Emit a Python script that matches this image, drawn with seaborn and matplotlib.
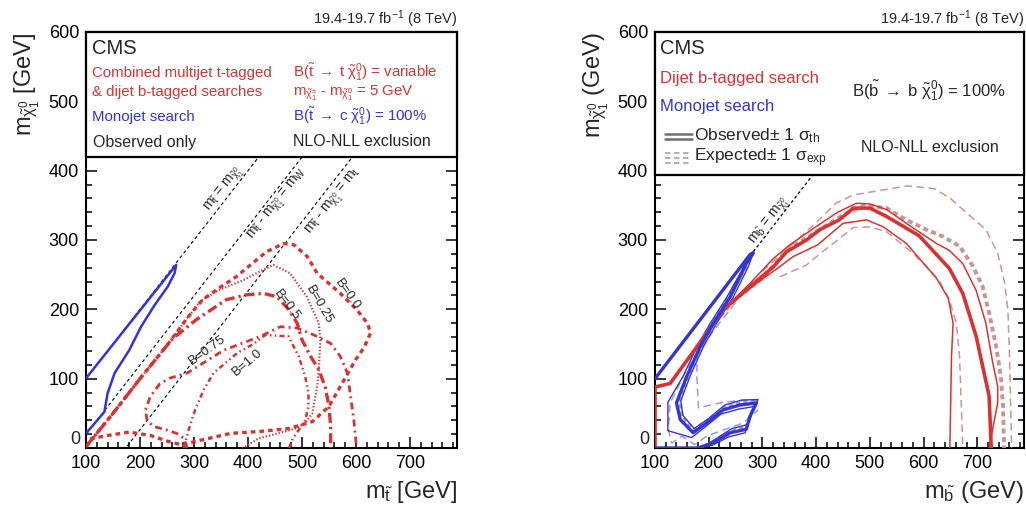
import matplotlib
matplotlib.use("Agg")
import numpy as np
import matplotlib.pyplot as plt
import seaborn as sns
from matplotlib.patches import Rectangle
from matplotlib.lines import Line2D
from matplotlib.ticker import MultipleLocator, FuncFormatter

# ---------------- values ----------------
LUMI = "19.4-19.7 fb$^{-1}$ (8 TeV)"
X_RANGE = (100, 787)
Y_RANGE = (0, 600)
M_W = 80.4
M_TOP = 173.5

# left panel: stop -> c chi (monojet), observed
STOP_MONO_X = [100, 267, 264, 251.5, 227, 202, 180, 153, 140, 134, 100]
STOP_MONO_Y = [100.5, 264, 252, 233, 206, 175, 141, 108, 79, 52, 21]

# left panel: combined t-tagged + b-tagged, one contour per branching fraction
B00_X = [100, 150, 200, 250, 290, 316, 345, 378, 434, 466, 485, 510, 528, 571, 602, 621,
         627, 615, 599, 574, 550, 519, 475, 423, 367, 300, 280, 250, 220, 180, 140, 100]
B00_Y = [2, 50, 100, 148, 190, 214, 230, 247, 283, 295, 293, 276, 252, 223, 199, 180,
         166, 145, 127, 93, 60, 38, 28, 24, 21, 9, 4, 10, 18, 23, 18, 12]
B025_X = [100, 150, 200, 250, 290, 312, 347, 391, 428, 447, 478, 509, 531, 534, 531, 528,
          519, 506, 488, 450, 420, 397, 390]
B025_Y = [2, 50, 100, 148, 190, 212, 228, 242, 257, 264, 252, 218, 180, 156, 113, 88,
          50, 36, 28, 20, 14, 3, 0]
B05_X = [100, 150, 200, 250, 261, 304, 360, 398, 429, 454, 475, 491, 500, 516, 531, 543,
         550, 553, 553]
B05_Y = [2, 50, 100, 148, 158, 185, 214, 221, 223, 218, 200, 180, 156, 132, 113, 88,
         60, 31, 0]
B075_X = [287, 281, 268, 250, 225, 213, 210, 219, 237, 256, 287, 355, 423, 460, 491, 522,
          553, 571, 584, 590, 596, 601]
B075_Y = [0, 14, 21, 26, 31, 40, 55, 74, 93, 101, 108, 141, 161, 175, 173, 163,
          151, 132, 108, 74, 40, 0]
B10_X = [281, 290, 302, 318, 336, 380, 410, 432, 475, 494, 506, 512, 512, 506, 494, 482, 476]
B10_Y = [0, 26, 55, 84, 108, 137, 150, 163, 161, 132, 103, 79, 60, 40, 26, 12, 0]

B_LABELS = ["B=0.0", "B=0.25", "B=0.5", "B=0.75", "B=1.0"]
B_LABEL_X = [584, 532, 472, 324, 398]
B_LABEL_Y = [221, 206, 206, 141, 124]
B_LABEL_ROT = [-55, -60, -53, 36, 40]

# right panel: sbottom, dijet b-tagged (red)
RED_OBS_X = [100, 100, 128, 178, 227, 277, 320, 345, 382, 407, 443, 469, 500, 531, 592,
             648, 673, 698, 722, 726]
RED_OBS_Y = [0, 88, 93, 146, 199, 233, 261, 283, 300, 315, 329, 346, 346, 334, 306,
             259, 223, 161, 75, 0]
RED_UP_X = [227, 280, 320, 351, 405, 440, 475, 500, 531, 568, 624, 648, 673, 698, 716,
            729, 738, 738, 722]
RED_UP_Y = [199, 240, 273, 293, 322, 340, 353, 352, 344, 324, 295, 285, 266, 227, 180,
            122, 89, 65, 0]
RED_DN_X = [227, 290, 333, 357, 403, 450, 494, 525, 568, 624, 646, 655, 652, 649]
RED_DN_Y = [199, 238, 262, 276, 293, 324, 329, 319, 295, 245, 216, 180, 132, 0]
RED_EXP_X = [200, 250, 300, 345, 400, 450, 490, 531, 568, 605, 636, 667, 692, 710, 722,
             735, 744, 748, 750]
RED_EXP_Y = [172, 215, 245, 285, 312, 336, 350, 346, 329, 315, 305, 291, 262, 233, 195,
             147, 103, 60, 0]
RED_EXP_UP_X = [300, 350, 400, 437, 469, 531, 570, 620, 650, 673, 716, 738, 751, 757,
                760, 764]
RED_EXP_UP_Y = [255, 290, 325, 353, 365, 373, 378, 374, 360, 344, 315, 281, 238, 199,
                132, 0]
RED_EXP_DN_X = [333, 382, 410, 440, 469, 500, 531, 580, 605, 630, 648, 661, 667, 673]
RED_EXP_DN_Y = [247, 264, 282, 300, 318, 319, 312, 281, 262, 240, 214, 180, 132, 0]

# right panel: sbottom, monojet (blue)
BLUE_OBS_X = [100, 277, 283, 270, 240, 209, 184, 159, 140, 147, 171, 196, 227, 258, 289,
              277, 270, 240, 210, 180, 100]
BLUE_OBS_Y = [100, 279, 281, 266, 218, 180, 146, 103, 65, 41, 22, 36, 55, 62, 65,
              46, 27, 22, 8, 0, 0]
BLUE_UP_X = [100, 280, 284, 274, 246, 215, 190, 166, 148, 152, 173, 199, 230, 261, 292,
             281, 273, 243, 213, 186]
BLUE_UP_Y = [100, 282, 284, 262, 218, 180, 146, 105, 68, 47, 28, 42, 62, 69, 70,
             52, 34, 28, 13, 0]
BLUE_DN_X = [100, 274, 279, 266, 234, 203, 178, 152, 124, 124, 168, 193, 223, 255, 286,
             274, 268, 237, 207, 175]
BLUE_DN_Y = [100, 276, 277, 262, 218, 180, 146, 103, 66, 25, 15, 30, 49, 56, 60,
             40, 22, 16, 4, 0]
BLUE_EXP_X = [270, 240, 212, 188, 164, 146, 150, 172, 198, 228, 260, 289, 278, 270, 240,
              210, 185]
BLUE_EXP_Y = [262, 222, 185, 150, 110, 72, 46, 26, 40, 58, 65, 67, 48, 30, 24, 10, 0]
BLUE_EXP_UP_X = [265, 252, 225, 196, 178, 178, 181, 227, 277, 292]
BLUE_EXP_UP_Y = [262, 233, 200, 170, 131, 103, 58, 66, 70, 68]
BLUE_EXP_DN_X = [250, 200, 159, 134, 128, 125, 131, 150, 174, 196, 227, 264, 292]
BLUE_EXP_DN_Y = [210, 160, 113, 74, 65, 26, 7, 17, 5, 17, 26, 36, 55]

RED = "#d63333"
BLUE = "#3535d0"
RED_EXP_C = "#c99595"
BLUE_EXP_C = "#9a9ae0"

# ---------------- style ----------------
sns.set_theme(style="ticks")
plt.rcParams["font.family"] = ["Liberation Sans", "DejaVu Sans"]
plt.rcParams["mathtext.fontset"] = "custom"
plt.rcParams["mathtext.rm"] = "Liberation Sans"
plt.rcParams["mathtext.it"] = "Liberation Sans"
plt.rcParams["mathtext.bf"] = "Liberation Sans:bold"
plt.rcParams["mathtext.sf"] = "Liberation Sans"

W, H = 1026, 519
fig = plt.figure(figsize=(W / 100, H / 100), dpi=100)


def fx(px):
    return px / W


def fy(py):
    return 1 - py / H


def curve(ax, xs, ys, color, lw, ls="-", z=3):
    sns.lineplot(x=xs, y=ys, ax=ax, sort=False, estimator=None, color=color,
                 lw=lw, linestyle=ls, legend=False, zorder=z)


def frame(ax, xlab, ylab, box_bottom):
    ax.set_xlim(*X_RANGE)
    ax.set_ylim(*Y_RANGE)
    ax.xaxis.set_major_locator(MultipleLocator(100))
    ax.xaxis.set_minor_locator(MultipleLocator(20))
    ax.yaxis.set_major_locator(MultipleLocator(100))
    ax.yaxis.set_minor_locator(MultipleLocator(20))
    # the y "0" is drawn by hand just above the corner, ROOT style
    ax.yaxis.set_major_formatter(FuncFormatter(lambda v, p: "" if v == 0 else f"{v:.0f}"))
    ax.text(-0.014, 0.0, "0", transform=ax.transAxes, ha="right", va="bottom",
            fontsize=13)
    ax.tick_params(which="both", direction="in", top=True, right=True,
                   labelsize=13, width=1.1, colors="black")
    ax.tick_params(which="major", length=8, pad=5)
    ax.tick_params(which="minor", length=4.5)
    for s in ax.spines.values():
        s.set_linewidth(1.5)
        s.set_color("black")
    ax.set_xlabel(xlab, fontsize=17, loc="right")
    ax.set_ylabel(ylab, fontsize=17, loc="top")
    ax.xaxis.set_label_coords(1.0, -0.075)
    ax.yaxis.set_label_coords(-0.118, 1.0)
    ax.set_title(LUMI, loc="right", fontsize=10.5, pad=6)
    ax.add_patch(Rectangle((0, box_bottom), 1, 1 - box_bottom, transform=ax.transAxes,
                           facecolor="white", edgecolor="black", lw=1.6, zorder=10,
                           clip_on=False))


# ---------------- left panel ----------------
ax1 = fig.add_axes([fx(86), fy(448), fx(457) - fx(86), fy(32) - fy(448)])
diag = np.array([100.0, 700.0])
for dm in [0.0, M_W, M_TOP]:
    curve(ax1, diag, diag - dm, "black", 0.8, (0, (3, 2.5)), z=2)

curve(ax1, STOP_MONO_X, STOP_MONO_Y, BLUE, 1.8)
curve(ax1, B00_X, B00_Y, RED, 2.4, (0, (1.4, 1.2)))
curve(ax1, B025_X, B025_Y, RED, 1.6, (0, (0.6, 0.9)))
curve(ax1, B05_X, B05_Y, RED, 2.4, (0, (3, 1.2, 0.7, 1.2)))
curve(ax1, B075_X, B075_Y, RED, 2.0, (0, (2.5, 1.5, 0.7, 1.5)))
curve(ax1, B10_X, B10_Y, RED, 1.8, (0, (2, 1.3, 0.6, 1.3, 0.6, 1.3)))

for lab, x, y, r in zip(B_LABELS, B_LABEL_X, B_LABEL_Y, B_LABEL_ROT):
    ax1.text(x, y, lab, fontsize=9.5, rotation=r, ha="center", va="center",
             rotation_mode="anchor", zorder=6)

ax1.text(356, 372, r"m$_{\tilde{t}}$ = m$_{\tilde{\chi}^{0}_{1}}$", fontsize=10,
         rotation=52, ha="center", va="center", rotation_mode="anchor")
ax1.text(455, 351, r"m$_{\tilde{t}}$ - m$_{\tilde{\chi}^{0}_{1}}$ = m$_{W}$", fontsize=10,
         rotation=52, ha="center", va="center", rotation_mode="anchor")
ax1.text(559, 355, r"m$_{\tilde{t}}$ - m$_{\tilde{\chi}^{0}_{1}}$ = m$_{t}$", fontsize=10,
         rotation=52, ha="center", va="center", rotation_mode="anchor")

frame(ax1, r"m$_{\tilde{t}}$ [GeV]", r"m$_{\tilde{\chi}^{0}_{1}}$ [GeV]", 0.70)

kw = dict(va="center", ha="left", zorder=11)
fig.text(fx(92), fy(48), "CMS", fontsize=14.5, **kw)
fig.text(fx(92), fy(73), "Combined multijet t-tagged", fontsize=10.8, color=RED, **kw)
fig.text(fx(92), fy(92), "& dijet b-tagged searches", fontsize=10.8, color=RED, **kw)
fig.text(fx(92), fy(117), "Monojet search", fontsize=10.8, color=BLUE, **kw)
fig.text(fx(93), fy(142), "Observed only", fontsize=11.5, **kw)
fig.text(fx(293), fy(72),
         r"B($\tilde{t}\;\rightarrow\;$t $\tilde{\chi}^{0}_{1}$) = variable",
         fontsize=10.8, color=RED, **kw)
fig.text(fx(293), fy(93), r"m$_{\tilde{\chi}^{\pm}_{1}}$ - m$_{\tilde{\chi}^{0}_{1}}$ = 5 GeV",
         fontsize=10.8, color=RED, **kw)
fig.text(fx(293), fy(116),
         r"B($\tilde{t}\;\rightarrow\;$c $\tilde{\chi}^{0}_{1}$) = 100%",
         fontsize=10.8, color=BLUE, **kw)
fig.text(fx(293), fy(142), "NLO-NLL exclusion", fontsize=11.5, **kw)

# ---------------- right panel ----------------
ax2 = fig.add_axes([fx(655), fy(448), fx(1024) - fx(655), fy(32) - fy(448)])
diag_b = np.array([283.0, 600.0])
curve(ax2, diag_b, diag_b, "black", 0.9, (0, (2.5, 2)), z=2)
ax2.text(314, 327, r"m$_{\tilde{b}}$ = m$_{\tilde{\chi}^{0}_{1}}$", fontsize=10,
         rotation=52, ha="center", va="center", rotation_mode="anchor")

curve(ax2, RED_EXP_UP_X, RED_EXP_UP_Y, RED_EXP_C, 1.1, (0, (5, 3)))
curve(ax2, RED_EXP_DN_X, RED_EXP_DN_Y, RED_EXP_C, 1.1, (0, (5, 3)))
curve(ax2, RED_EXP_X, RED_EXP_Y, RED_EXP_C, 2.8, (0, (1.3, 0.9)))
curve(ax2, BLUE_EXP_UP_X, BLUE_EXP_UP_Y, BLUE_EXP_C, 1.1, (0, (5, 3)))
curve(ax2, BLUE_EXP_DN_X, BLUE_EXP_DN_Y, BLUE_EXP_C, 1.1, (0, (5, 3)))
curve(ax2, BLUE_EXP_X, BLUE_EXP_Y, BLUE_EXP_C, 2.4, (0, (1.3, 0.9)))
curve(ax2, RED_UP_X, RED_UP_Y, RED, 1.1)
curve(ax2, RED_DN_X, RED_DN_Y, RED, 1.1)
curve(ax2, RED_OBS_X, RED_OBS_Y, RED, 2.6, z=4)
curve(ax2, BLUE_UP_X, BLUE_UP_Y, BLUE, 1.0)
curve(ax2, BLUE_DN_X, BLUE_DN_Y, BLUE, 1.0)
curve(ax2, BLUE_OBS_X, BLUE_OBS_Y, BLUE, 2.4, z=4)

frame(ax2, r"m$_{\tilde{b}}$ (GeV)", r"m$_{\tilde{\chi}^{0}_{1}}$ (GeV)", 0.657)

fig.text(fx(660), fy(49), "CMS", fontsize=14.5, **kw)
fig.text(fx(660), fy(78), "Dijet b-tagged search", fontsize=12, color=RED, **kw)
fig.text(fx(660), fy(106), "Monojet search", fontsize=12, color=BLUE, **kw)
fig.text(fx(852), fy(91),
         r"B($\tilde{b}\;\rightarrow\;$b $\tilde{\chi}^{0}_{1}$) = 100%",
         fontsize=12, **kw)
fig.text(fx(861), fy(148), "NLO-NLL exclusion", fontsize=11.5, **kw)
fig.text(fx(694), fy(136), r"Observed$\pm$ 1 $\sigma_{\mathrm{th}}$", fontsize=12.5, **kw)
fig.text(fx(694), fy(158), r"Expected$\pm$ 1 $\sigma_{\mathrm{exp}}$", fontsize=12.5, **kw)

for py, lw in [(133.5, 1.8), (138.5, 1.8)]:
    fig.add_artist(Line2D([fx(665), fx(692)], [fy(py), fy(py)], color="#6e6e6e",
                          lw=lw, zorder=12))
for py in [153, 158, 163]:
    fig.add_artist(Line2D([fx(665), fx(692)], [fy(py), fy(py)], color="#aaaaaa",
                          lw=1.3, linestyle=(0, (3, 2)), zorder=12))

fig.savefig("out.png", dpi=100)
